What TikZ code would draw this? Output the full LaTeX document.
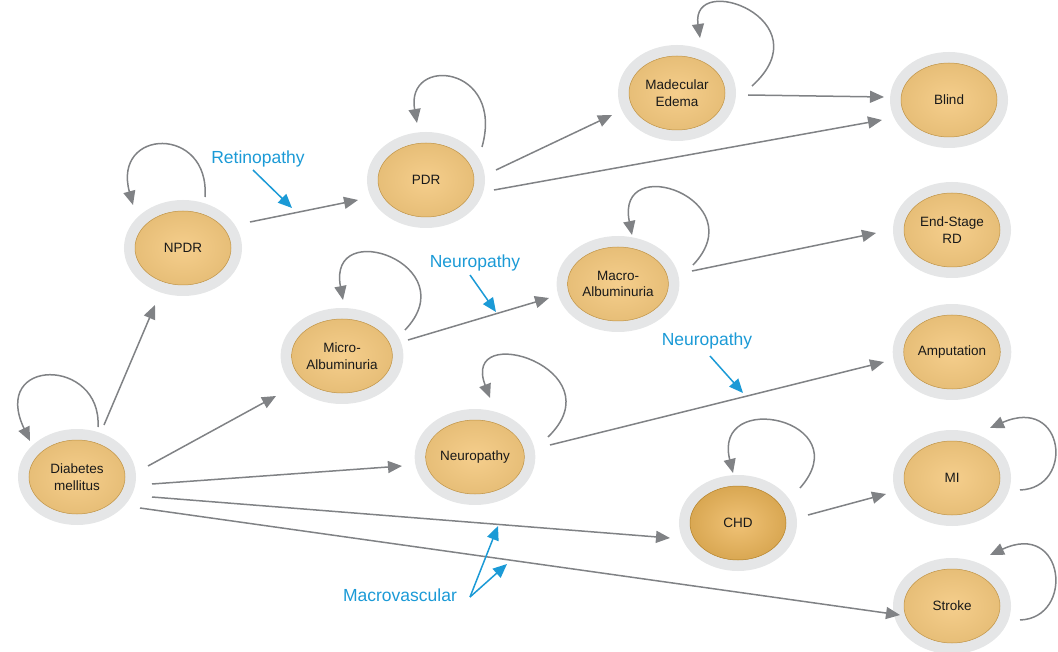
\documentclass[tikz,border=0pt]{standalone}
\usepackage{fontspec}
\setmainfont{Liberation Sans}
\usetikzlibrary{arrows.meta,shapes.geometric}
\definecolor{ring}{RGB}{229,230,231}
\definecolor{goldin}{RGB}{245,206,140}
\definecolor{goldmid}{RGB}{229,188,117}
\definecolor{goldout}{RGB}{206,162,87}
\definecolor{goldedge}{RGB}{192,148,70}
\definecolor{chdin}{RGB}{240,194,118}
\definecolor{chdmid}{RGB}{214,164,78}
\definecolor{chdout}{RGB}{180,130,40}
\definecolor{arrowgray}{RGB}{128,130,133}
\definecolor{annblue}{RGB}{27,154,214}
\definecolor{txt}{RGB}{25,25,25}
\pgfdeclareradialshading{goldball}{\pgfpoint{0bp}{0bp}}{color(0bp)=(goldin); color(28bp)=(goldmid); color(47bp)=(goldout); color(50bp)=(goldedge)}
\pgfdeclareradialshading{chdball}{\pgfpoint{0bp}{0bp}}{color(0bp)=(chdin); color(28bp)=(chdmid); color(48bp)=(chdout); color(50bp)=(chdout)}
\newcommand{\sloop}[5]{\draw[conn] ([shift={#2}]#1.center) .. controls ([shift={#3}]#1.center) and ([shift={#4}]#1.center) .. ([shift={#5}]#1.center);}
\begin{document}
\begin{tikzpicture}[x=1pt,y=-1pt,
  state/.style={ellipse, minimum width=96pt, minimum height=74pt, inner sep=0pt,
    preaction={draw=ring, line width=22pt}, shading=goldball, draw=goldedge, line width=0.5pt,
    align=center, text=txt, font=\fontsize{13.5}{16.5}\selectfont},
  chdstate/.style={state, shading=chdball, draw=chdout},
  conn/.style={draw=arrowgray, line width=1.5pt, -{Triangle[length=14pt,width=12pt]}},
  lab/.style={text=annblue, font=\fontsize{17.5}{20}\selectfont, inner sep=0pt},
  ann/.style={draw=annblue, line width=1.5pt, -{Triangle[length=14pt,width=12pt]}}]
\useasboundingbox (0,0) rectangle (1058,652);

% states
\node[state] (dm) at (77,477) {Diabetes\\mellitus};
\node[state] (npdr) at (183,248) {NPDR};
\node[state] (pdr) at (426,180) {PDR};
\node[state] (me) at (677,93) {Madecular\\Edema};
\node[state] (blind) at (949,100) {Blind};
\node[state] (esrd) at (952,230) {End-Stage\\RD};
\node[state] (macro) at (618,284) {Macro-\\Albuminuria};
\node[state] (micro) at (342,356) {Micro-\\Albuminuria};
\node[state] (amp) at (952,352) {Amputation};
\node[state] (neuro) at (475,457) {Neuropathy};
\node[chdstate] (chd) at (738,523) {CHD};
\node[state] (mi) at (952,478) {MI};
\node[state] (stroke) at (952,606) {Stroke};

% transitions
\draw[conn] ([shift={(27,-52)}]dm.center) -- ([shift={(-28,57)}]npdr.center);
\draw[conn] ([shift={(71,-11)}]dm.center) -- ([shift={(-66,40)}]micro.center);
\draw[conn] ([shift={(75,7)}]dm.center) -- ([shift={(-73,9)}]neuro.center);
\draw[conn] ([shift={(75,20)}]dm.center) -- ([shift={(-68,15)}]chd.center);
\draw[conn] ([shift={(63,31)}]dm.center) -- ([shift={(-52,9)}]stroke.center);
\draw[conn] ([shift={(67,-26)}]npdr.center) -- ([shift={(-68,20)}]pdr.center);
\draw[conn] ([shift={(70,-10)}]pdr.center) -- ([shift={(-65,22)}]me.center);
\draw[conn] ([shift={(68,10)}]pdr.center) -- ([shift={(-67,20)}]blind.center);
\draw[conn] ([shift={(71,2)}]me.center) -- ([shift={(-65,-3)}]blind.center);
\draw[conn] ([shift={(66,-16)}]micro.center) -- ([shift={(-69,14)}]macro.center);
\draw[conn] ([shift={(74,-13)}]macro.center) -- ([shift={(-76,3)}]esrd.center);
\draw[conn] ([shift={(75,-12)}]neuro.center) -- ([shift={(-68,10)}]amp.center);
\draw[conn] ([shift={(70,-8)}]chd.center) -- ([shift={(-66,16)}]mi.center);

% self loops
\sloop{dm}{(21,-50)}{(25,-120)}{(-87,-120)}{(-47,-36)}
\sloop{npdr}{(22,-51)}{(27,-123)}{(-71,-120)}{(-50,-43)}
\sloop{pdr}{(56,-33)}{(79,-115)}{(-21,-125)}{(-9,-57)}
\sloop{me}{(75,-7)}{(148,-73)}{(13,-123)}{(23,-55)}
\sloop{macro}{(75,-19)}{(137,-84)}{(-3,-134)}{(14,-49)}
\sloop{micro}{(63,-26)}{(125,-91)}{(-15,-141)}{(1,-56)}
\sloop{neuro}{(73,-20)}{(143,-88)}{(-15,-138)}{(15,-59)}
\sloop{chd}{(62,-35)}{(122,-103)}{(-26,-135)}{(-5,-50)}
\sloop{mi}{(68,12)}{(123,10)}{(113,-83)}{(38,-50)}
\sloop{stroke}{(68,14)}{(123,12)}{(113,-86)}{(38,-51)}

% annotations
\node[lab] (lret) at (258,159) {Retinopathy};
\node[lab] (lneu1) at (475,263) {Neuropathy};
\node[lab] (lneu2) at (707,341) {Neuropathy};
\node[lab] (lmac) at (400,595) {Macrovascular};
\coordinate (tret) at (292,208);
\coordinate (tneu1) at (496,312);
\coordinate (tneu2) at (743,393);
\coordinate (tmac1) at (498,526);
\coordinate (tmac2) at (507,564);
\draw[ann] ([shift={(-5,11)}]lret.center) -- (tret);
\draw[ann] ([shift={(-5,12)}]lneu1.center) -- (tneu1);
\draw[ann] ([shift={(3,15)}]lneu2.center) -- (tneu2);
\draw[ann] ([shift={(70,2)}]lmac.center) -- (tmac1);
\draw[ann] ([shift={(70,2)}]lmac.center) -- (tmac2);
\end{tikzpicture}
\end{document}
